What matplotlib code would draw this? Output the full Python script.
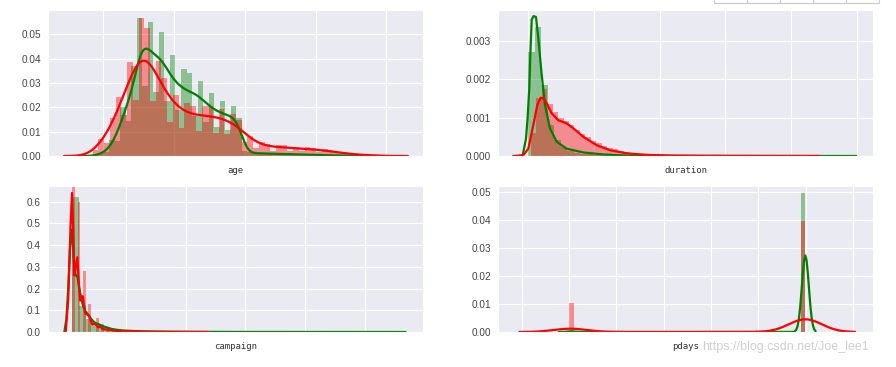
import numpy as np
import matplotlib.pyplot as plt
import seaborn as sns
from matplotlib.ticker import FormatStrFormatter
from matplotlib.lines import Line2D

# スタイル設定（seaborn darkgrid）
sns.set_style("darkgrid")
plt.rcParams["font.family"] = ["Liberation Sans", "DejaVu Sans"]
plt.rcParams["axes.unicode_minus"] = False

# ---- age：年齢ごとの割合（no / yes） ----
age_no = list(range(17, 96))
age_no_p = [0.0001, 0.0004, 0.0008, 0.0013, 0.0025, 0.004, 0.0065, 0.010, 0.014, 0.018,
            0.023, 0.027, 0.032, 0.043, 0.047, 0.046, 0.045, 0.043, 0.042, 0.041,
            0.040, 0.036, 0.034, 0.032, 0.030, 0.029, 0.028, 0.027, 0.027, 0.026,
            0.025, 0.024, 0.022, 0.021, 0.020, 0.019, 0.018, 0.018, 0.017, 0.017,
            0.016, 0.014, 0.011, 0.003, 0.0014,
            0.0012, 0.0012, 0.0011, 0.0011, 0.001, 0.001, 0.001, 0.0009, 0.0009,
            0.0008, 0.0008, 0.0007, 0.0007, 0.0007, 0.0006, 0.0006, 0.0006, 0.0005, 0.0005,
            0.0004, 0.0004, 0.0003, 0.0003, 0.0003, 0.0002, 0.0002, 0.0002,
            0.0001, 0.0001, 0.0001, 0.0001, 0.00005, 0.00005, 0.00005]
age_yes = list(range(17, 99))
age_yes_p = [0.001, 0.003, 0.005, 0.006, 0.008, 0.011, 0.013, 0.017, 0.021, 0.026,
             0.029, 0.031, 0.036, 0.043, 0.045, 0.042, 0.040, 0.035, 0.032, 0.029,
             0.026, 0.024, 0.022, 0.020, 0.019, 0.018, 0.017, 0.017, 0.016, 0.016,
             0.016, 0.016, 0.016, 0.016, 0.016, 0.015, 0.015, 0.015, 0.014, 0.014,
             0.013, 0.012, 0.011, 0.009, 0.007, 0.006, 0.005, 0.0045, 0.0045, 0.004,
             0.0035, 0.0035, 0.0035, 0.0035, 0.0035, 0.0035,
             0.003, 0.003, 0.003, 0.003, 0.003, 0.003,
             0.0025, 0.0025, 0.0025, 0.0025,
             0.0018, 0.0018, 0.0018, 0.0018,
             0.001, 0.001, 0.001, 0.001,
             0.0005, 0.0005, 0.0005, 0.0005,
             0.0002, 0.0002, 0.0002, 0.0002]

# ---- duration：ヒストグラムの高さ（50ビン）と密度曲線 ----
dur_no_range = (0, 4918)
dur_no_hist = [0.0027, 0.00335, 0.00185, 0.0008, 0.00042, 0.00024, 0.00014, 0.00009, 0.00006, 0.00004,
               0.00003, 0.000025, 0.00002, 0.000015, 0.000012, 0.00001, 0.000008, 0.000007, 0.000006, 0.000005,
               0.000004, 0.000004, 0.000003, 0.000003, 0.000002, 0.000002, 0.000002, 0.000002, 0.000001, 0.000001,
               0.000001, 0.000001, 0.000001, 0.000001, 0, 0.000001, 0, 0, 0.000001, 0,
               0, 0, 0, 0, 0, 0, 0, 0, 0, 0.000001]
dur_yes_range = (37, 4199)
dur_yes_hist = [0.0006, 0.0015, 0.00175, 0.00135, 0.00115, 0.001, 0.00092, 0.0008, 0.00068, 0.00058,
                0.0005, 0.0004, 0.00033, 0.00027, 0.00021, 0.00017, 0.00013, 0.0001, 0.00008, 0.00006,
                0.00005, 0.00004, 0.00003, 0.000025, 0.00002, 0.000015, 0.000012, 0.00001, 0.000008, 0.000006,
                0.000005, 0.000004, 0.000003, 0.000003, 0.000002, 0.000002, 0.000002, 0.000001, 0.000001, 0.000001,
                0.000001, 0.000001, 0, 0.000001, 0, 0, 0, 0, 0, 0.000001]
dur_no_kde_x = [-126, -85, -35, -10, 15, 30, 52, 80, 117, 152, 204, 254, 330, 432, 584, 842,
                1142, 1500, 2500, 4000, 4990]
dur_no_kde_y = [0, 0.00002, 0.00045, 0.001, 0.00176, 0.0026, 0.00355, 0.00364, 0.00362, 0.00307,
                0.00211, 0.00133, 0.00072, 0.00037, 0.00019, 0.00009, 0.00004, 0.00001, 0.000003,
                0.000001, 0]
dur_yes_kde_x = [-228, -76, 0, 76, 137, 189, 228, 280, 356, 457, 584, 686, 838, 1041, 1244,
                 1498, 1800, 2200, 3000, 4440]
dur_yes_kde_y = [0, 0.00002, 0.00019, 0.0008, 0.00133, 0.00152, 0.0015, 0.00137, 0.00111, 0.00093,
                 0.00085, 0.00072, 0.0005, 0.00028, 0.00015, 0.00007, 0.00003, 0.00001, 0.000003, 0]

# ---- campaign：回数ごとの割合と密度曲線 ----
camp_no = list(range(1, 36)) + [37, 39, 40, 41, 42, 43, 56]
camp_no_p = [0.42, 0.257, 0.128, 0.064, 0.038, 0.024, 0.016, 0.010, 0.007, 0.0055,
             0.0045, 0.0033, 0.0024, 0.0018, 0.0013, 0.0011, 0.0015, 0.0008, 0.0006, 0.0007,
             0.0005, 0.0004, 0.0004, 0.0004, 0.0002, 0.0002, 0.0003, 0.0002, 0.0002, 0.0002,
             0.0002, 0.0001, 0.0001, 0.0001, 0.0001,
             0.00005, 0.00003, 0.00005, 0.00003, 0.00005, 0.00005, 0.00003]
camp_yes = list(range(1, 18)) + [23]
camp_yes_p = [0.477, 0.26, 0.123, 0.056, 0.028, 0.017, 0.01, 0.006, 0.004, 0.0025,
              0.003, 0.0008, 0.0008, 0.0002, 0.0004, 0.0001, 0.0008, 0.0002]
camp_no_kde_x = [-0.35, 0.0, 0.3, 0.6, 0.89, 1.1, 1.35, 1.6, 1.85, 2.1, 2.3, 2.6, 2.85, 3.2, 3.5,
                 3.9, 4.2, 4.6, 4.9, 5.3, 5.65, 6.2, 6.9, 7.6, 8.5, 9.5, 11, 13, 15, 18, 22, 27,
                 32, 40, 50, 56.9]
camp_no_kde_y = [0, 0.06, 0.2, 0.38, 0.47, 0.40, 0.28, 0.26, 0.255, 0.21, 0.18, 0.14, 0.115, 0.095,
                 0.085, 0.07, 0.058, 0.047, 0.04, 0.038, 0.032, 0.026, 0.02, 0.014, 0.01, 0.007,
                 0.005, 0.003, 0.002, 0.0012, 0.0007, 0.0004, 0.0002, 0.0001, 0.00005, 0]
camp_yes_kde_x = [-0.12, 0.3, 0.7, 0.94, 1.15, 1.33, 1.55, 1.83, 2.05, 2.29, 2.5, 2.75, 2.95, 3.2,
                  3.5, 3.8, 4.1, 4.36, 4.7, 5.0, 5.3, 5.7, 6.1, 6.6, 7.2, 8, 9, 10.5, 12, 14, 17,
                  20, 23.8]
camp_yes_kde_y = [0, 0.15, 0.5, 0.64, 0.45, 0.26, 0.30, 0.344, 0.24, 0.145, 0.15, 0.165, 0.12,
                  0.084, 0.08, 0.075, 0.05, 0.035, 0.04, 0.032, 0.022, 0.024, 0.014, 0.012, 0.009,
                  0.006, 0.004, 0.003, 0.002, 0.001, 0.0006, 0.0003, 0]

# ---- pdays：日数ごとの割合 ----
pdays_no = [0, 3, 6, 9, 12, 15, 18, 21, 999]
pdays_no_p = [0.0004, 0.003, 0.0035, 0.0008, 0.0006, 0.0004, 0.0002, 0.0001, 0.991]
pdays_yes = [0, 2, 3, 4, 6, 7, 9, 10, 12, 15, 18, 22, 26, 999]
pdays_yes_p = [0.004, 0.008, 0.07, 0.016, 0.068, 0.007, 0.011, 0.006, 0.008, 0.004, 0.003,
               0.0015, 0.0005, 0.793]

GREEN = "g"
RED = "r"

# 図の作成
W, H = 896, 367
fig = plt.figure(figsize=(W / 100, H / 100), dpi=100)


def box(left, top, right, bottom):
    return [left / W, 1 - bottom / H, (right - left) / W, (bottom - top) / H]


ax_age = fig.add_axes(box(48, 10, 423, 156))
ax_dur = fig.add_axes(box(498, 10, 873, 156))
ax_camp = fig.add_axes(box(48, 186, 423, 332))
ax_pdays = fig.add_axes(box(498, 186, 873, 332))


def count_hist(ax, vals, p, color):
    ax.hist(vals, bins=50, weights=p, density=True, color=color, alpha=0.4, linewidth=0)


def bin_hist(ax, rng, heights, color):
    edges = np.linspace(rng[0], rng[1], len(heights) + 1)
    ax.bar(edges[:-1], heights, width=np.diff(edges), align="edge",
           color=color, alpha=0.4, linewidth=0)


def count_kde(ax, vals, p, bw, color, cut=3, gridsize=200):
    # 重み付きガウスカーネル密度（seaborn と同じ cut / gridsize）
    vals = np.asarray(vals, dtype=float)
    p = np.asarray(p, dtype=float)
    p = p / p.sum()
    grid = np.linspace(vals.min() - cut * bw, vals.max() + cut * bw, gridsize)
    z = (grid[:, None] - vals[None, :]) / bw
    dens = (p[None, :] * np.exp(-0.5 * z ** 2)).sum(axis=1) / (bw * np.sqrt(2 * np.pi))
    ax.plot(grid, dens, color=color, lw=1.6)


# age
count_hist(ax_age, age_no, age_no_p, GREEN)
count_kde(ax_age, age_no, age_no_p, 1.28, GREEN)
count_hist(ax_age, age_yes, age_yes_p, RED)
count_kde(ax_age, age_yes, age_yes_p, 2.7, RED)

# duration
bin_hist(ax_dur, dur_no_range, dur_no_hist, GREEN)
ax_dur.plot(dur_no_kde_x, dur_no_kde_y, color=GREEN, lw=1.6)
bin_hist(ax_dur, dur_yes_range, dur_yes_hist, RED)
ax_dur.plot(dur_yes_kde_x, dur_yes_kde_y, color=RED, lw=1.6)

# campaign
count_hist(ax_camp, camp_no, camp_no_p, GREEN)
ax_camp.plot(camp_no_kde_x, camp_no_kde_y, color=GREEN, lw=1.6)
count_hist(ax_camp, camp_yes, camp_yes_p, RED)
ax_camp.plot(camp_yes_kde_x, camp_yes_kde_y, color=RED, lw=1.6)

# pdays
count_hist(ax_pdays, pdays_no, pdays_no_p, GREEN)
count_kde(ax_pdays, pdays_no, pdays_no_p, 14.5, GREEN)
count_hist(ax_pdays, pdays_yes, pdays_yes_p, RED)
count_kde(ax_pdays, pdays_yes, pdays_yes_p, 70, RED)

# 軸の設定
settings = [
    (ax_age, "age", (4.35, 110.4), [20, 40, 60, 80, 100], (0, 0.060), [0, 0.01, 0.02, 0.03, 0.04, 0.05], "%.2f"),
    (ax_dur, "duration", (-461, 5245), [0, 1000, 2000, 3000, 4000, 5000], (0, 0.0038), [0, 0.001, 0.002, 0.003], "%.3f"),
    (ax_camp, "campaign", (-3.09, 59.8), [10, 20, 30, 40, 50], (0, 0.672), [0, 0.1, 0.2, 0.3, 0.4, 0.5, 0.6], "%.1f"),
    (ax_pdays, "pdays", (-300, 1285), [-200, 0, 200, 400, 600, 800, 1000, 1200], (0, 0.052), [0, 0.01, 0.02, 0.03, 0.04, 0.05], "%.2f"),
]
for ax, name, xlim, xt, ylim, yt, fmt in settings:
    ax.set_xlim(xlim)
    ax.set_ylim(ylim)
    ax.set_xticks(xt)
    ax.set_xticklabels([])
    ax.set_yticks(yt)
    ax.yaxis.set_major_formatter(FormatStrFormatter(fmt))
    ax.tick_params(axis="both", length=0, pad=5, labelsize=7.2, labelcolor="#444444")
    ax.set_ylabel("")
    ax.set_xlabel(name, fontsize=6.5, family=["DejaVu Sans Mono"], color="#333333", labelpad=2)

# 右上の表の切れ端
for x in [714, 746.7, 780, 813, 846, 879]:
    fig.add_artist(Line2D([x / W, x / W], [1.0, 1 - 2.5 / H], color="#c8c8c8", lw=0.8))
fig.add_artist(Line2D([714 / W, 879 / W], [1 - 2.5 / H, 1 - 2.5 / H], color="#c8c8c8", lw=0.8))

# 透かし
fig.text(702 / W, 1 - 347 / H, "https://blog.csdn.net/Joe_lee1", fontsize=9,
         color="#d0d0d0", ha="left", va="center")

plt.savefig("out.png", dpi=100)
